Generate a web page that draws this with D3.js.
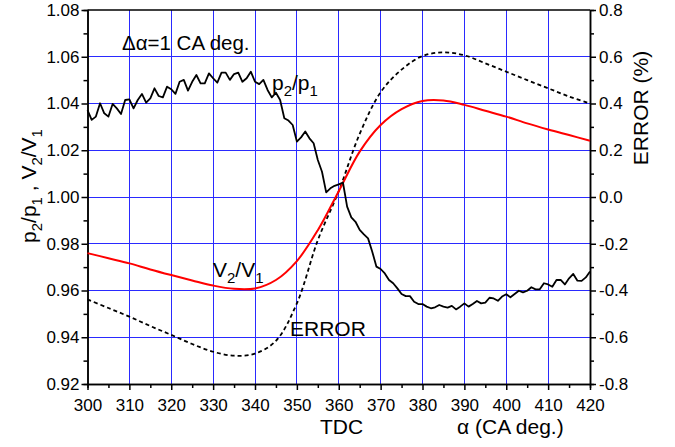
<!DOCTYPE html>
<html>
<head>
<meta charset="utf-8">
<script src="https://cdn.jsdelivr.net/npm/d3@7"></script>
<style>
  body { margin: 0; background: #fff; }
  svg { font-family: Arial, "Liberation Sans", sans-serif; }
</style>
</head>
<body>
<div id="chart"></div>
<script>
// crank angle in 1 deg steps for the measured ratio
var anglesFine = d3.range(300, 421, 1);
var pressureRatio = [
  1.0372, 1.0330, 1.0344, 1.0401, 1.0358, 1.0344, 1.0398, 1.0379, 1.0355, 1.0415,
  1.0418, 1.0379, 1.0415, 1.0441, 1.0404, 1.0422, 1.0465, 1.0432, 1.0426, 1.0472,
  1.0461, 1.0441, 1.0493, 1.0501, 1.0455, 1.0493, 1.0522, 1.0486, 1.0486, 1.0529,
  1.0508, 1.0489, 1.0532, 1.0532, 1.0501, 1.0526, 1.0532, 1.0493, 1.0508, 1.0536,
  1.0493, 1.0483, 1.0501, 1.0458, 1.0426, 1.0446, 1.0415, 1.0337, 1.0327, 1.0308,
  1.0237, 1.0255, 1.0280, 1.0251, 1.0230, 1.0158, 1.0108, 1.0020, 1.0037, 1.0048,
  1.0054,
  1.0062, 0.9959, 0.9913, 0.9894, 0.9859, 0.9840, 0.9823, 0.9766, 0.9702, 0.9692,
  0.9673, 0.9645, 0.9631, 0.9609, 0.9585, 0.9576, 0.9576, 0.9552, 0.9542, 0.9542,
  0.9531, 0.9524, 0.9528, 0.9538, 0.9531, 0.9527, 0.9534, 0.9519, 0.9531, 0.9545,
  0.9531, 0.9542, 0.9555, 0.9545, 0.9548, 0.9569, 0.9566, 0.9556, 0.9574, 0.9584,
  0.9571, 0.9585, 0.9599, 0.9592, 0.9599, 0.9614, 0.9605, 0.9605, 0.9631, 0.9626,
  0.9616, 0.9645, 0.9645, 0.9626, 0.9652, 0.9671, 0.9642, 0.9641, 0.9656, 0.9681
];

// smooth curves, read every 5 deg
var anglesCoarse = [300, 305, 310, 315, 320, 325, 330, 335, 340, 345, 350, 355, 360,
                    365, 370, 375, 380, 385, 390, 395, 400, 405, 410, 415, 420];
var volumeRatio = [0.9760, 0.9738, 0.9716, 0.9690, 0.9666, 0.9643, 0.9621, 0.9607, 0.9609,
                   0.9645, 0.9726, 0.9858, 1.0025, 1.0194, 1.0308, 1.0376, 1.0411, 1.0413,
                   1.0394, 1.0369, 1.0344, 1.0315, 1.0289, 1.0265, 1.0241];
var errorPct = [-0.438, -0.475, -0.512, -0.552, -0.590, -0.629, -0.662, -0.679, -0.670,
                -0.615, -0.455, -0.185, 0.025, 0.270, 0.448, 0.545, 0.603, 0.619,
                0.606, 0.572, 0.536, 0.500, 0.465, 0.430, 0.400];

var xTicks = d3.range(300, 421, 10);
var yTicks = [0.92, 0.94, 0.96, 0.98, 1.00, 1.02, 1.04, 1.06, 1.08];
var y2Ticks = [-0.8, -0.6, -0.4, -0.2, 0.0, 0.2, 0.4, 0.6, 0.8];

var W = 675, H = 447;
var pLeft = 87.5, pRight = 590, pTop = 10, pBottom = 384;

var svg = d3.select('#chart').append('svg')
    .attr('width', W)
    .attr('height', H);

var x = d3.scaleLinear().domain([300, 420]).range([pLeft, pRight]);
var y = d3.scaleLinear().domain([0.92, 1.08]).range([pBottom, pTop]);
var y2 = d3.scaleLinear().domain([-0.8, 0.8]).range([pBottom, pTop]);

var fmt = function (d) { return d.toFixed(1); };

// grid
var grid = svg.append('g').attr('stroke', '#2a2aff').attr('stroke-width', 1)
    .attr('shape-rendering', 'crispEdges');
grid.selectAll('line.v').data(xTicks.slice(1, -1)).enter().append('line')
    .attr('x1', function (d) { return x(d); })
    .attr('x2', function (d) { return x(d); })
    .attr('y1', pTop).attr('y2', pBottom);
grid.selectAll('line.h').data(yTicks.slice(1, -1)).enter().append('line')
    .attr('y1', function (d) { return y(d); })
    .attr('y2', function (d) { return y(d); })
    .attr('x1', pLeft).attr('x2', pRight);

// axes
var xAxis = svg.append('g').attr('transform', 'translate(0,' + pBottom + ')')
    .call(d3.axisBottom(x).tickValues(xTicks).tickSize(6).tickSizeOuter(0).tickFormat(d3.format('d')));
svg.append('g').attr('transform', 'translate(0,' + pBottom + ')')
    .call(d3.axisBottom(x).tickValues(d3.range(305, 420, 10)).tickSize(4).tickFormat(''));

var yAxis = svg.append('g').attr('transform', 'translate(' + pLeft + ',0)')
    .call(d3.axisLeft(y).tickValues(yTicks).tickSize(6).tickSizeOuter(0).tickFormat(d3.format('.2f')));
svg.append('g').attr('transform', 'translate(' + pLeft + ',0)')
    .call(d3.axisLeft(y).tickValues(d3.range(0.93, 1.08, 0.02)).tickSize(4).tickFormat(''));

var y2Axis = svg.append('g').attr('transform', 'translate(' + pRight + ',0)')
    .call(d3.axisRight(y2).tickValues(y2Ticks).tickSize(6).tickSizeOuter(0).tickFormat(fmt));
svg.append('g').attr('transform', 'translate(' + pRight + ',0)')
    .call(d3.axisRight(y2).tickValues(d3.range(-0.7, 0.8, 0.2)).tickSize(4).tickFormat(''));

svg.append('line').attr('x1', pLeft).attr('x2', pRight).attr('y1', pTop).attr('y2', pTop)
    .attr('stroke', '#000').attr('stroke-width', 1.5);

svg.selectAll('.domain').attr('stroke', '#000').attr('stroke-width', 1.5);
svg.selectAll('.tick line').attr('stroke', '#000').attr('stroke-width', 1.5);
svg.selectAll('.tick text').attr('font-size', 17).attr('fill', '#000')
    .attr('font-family', 'Arial, "Liberation Sans", sans-serif');
xAxis.selectAll('.tick text').attr('dy', '1.05em');
yAxis.selectAll('.tick text').attr('x', -8);
y2Axis.selectAll('.tick text').attr('x', 9);

// series
var plot = svg.append('g');

plot.append('path')
    .datum(anglesCoarse.map(function (a, i) { return [a, errorPct[i]]; }))
    .attr('fill', 'none').attr('stroke', '#000').attr('stroke-width', 1.8)
    .attr('stroke-dasharray', '4,3')
    .attr('d', d3.line().curve(d3.curveCatmullRom.alpha(0.5))
        .x(function (d) { return x(d[0]); })
        .y(function (d) { return y2(d[1]); }));

plot.append('path')
    .datum(anglesCoarse.map(function (a, i) { return [a, volumeRatio[i]]; }))
    .attr('fill', 'none').attr('stroke', '#ff0000').attr('stroke-width', 2)
    .attr('d', d3.line().curve(d3.curveCatmullRom.alpha(0.5))
        .x(function (d) { return x(d[0]); })
        .y(function (d) { return y(d[1]); }));

plot.append('path')
    .datum(anglesFine.map(function (a, i) { return [a, pressureRatio[i]]; }))
    .attr('fill', 'none').attr('stroke', '#000').attr('stroke-width', 1.8)
    .attr('stroke-linejoin', 'round')
    .attr('d', d3.line()
        .x(function (d) { return x(d[0]); })
        .y(function (d) { return y(d[1]); }));

// labels with subscripts: parts are [text, isSubscript]
function subLabel(g, parts, size) {
    var t = g.append('text').attr('font-size', size).attr('fill', '#000');
    var shift = Math.round(size * 0.3), down = false;
    parts.forEach(function (p) {
        var s = t.append('tspan').text(p[0])
            .attr('font-size', p[1] ? Math.round(size * 0.7) : size);
        if (p[1] && !down) { s.attr('dy', shift); down = true; }
        else if (!p[1] && down) { s.attr('dy', -shift); down = false; }
    });
    return t;
}

svg.append('text').attr('x', 122).attr('y', 50).attr('font-size', 20.5)
    .text('\u0394\u03b1=1 CA deg.');

subLabel(svg, [['p'], ['2', 1], ['/p'], ['1', 1]], 21)
    .attr('x', 272).attr('y', 90);
subLabel(svg, [['V'], ['2', 1], ['/V'], ['1', 1]], 21)
    .attr('x', 213).attr('y', 277);
svg.append('text').attr('x', 290).attr('y', 336).attr('font-size', 21).text('ERROR');

svg.append('text').attr('x', 320).attr('y', 434).attr('font-size', 21).text('TDC');
svg.append('text').attr('x', 457).attr('y', 434).attr('font-size', 21).text('\u03b1 (CA deg.)');

svg.append('text').attr('transform', 'translate(648,108) rotate(-90)')
    .attr('text-anchor', 'middle').attr('font-size', 21).text('ERROR (%)');

subLabel(svg, [['p'], ['2', 1], ['/p'], ['1', 1], [' ,  V'], ['2', 1], ['/V'], ['1', 1]], 21)
    .attr('transform', 'translate(36,186) rotate(-90)')
    .attr('text-anchor', 'middle');
</script>
</body>
</html>
